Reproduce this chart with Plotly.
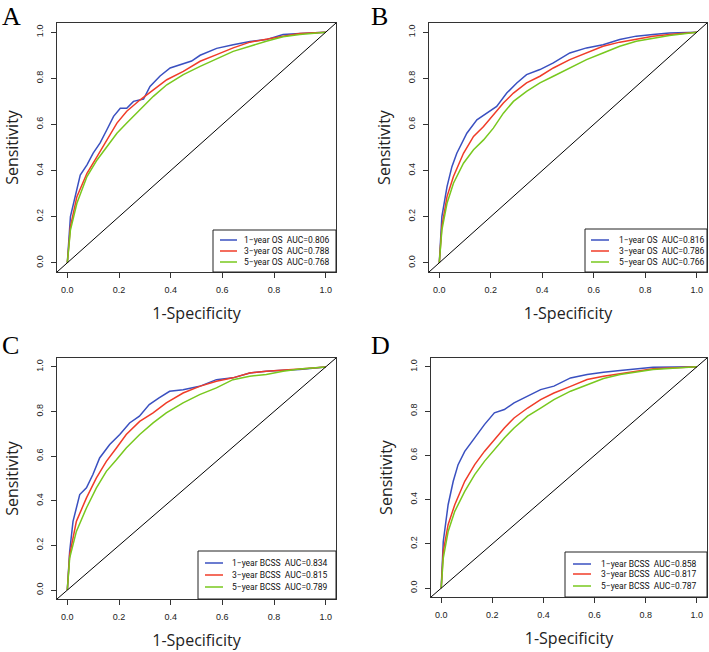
import plotly.graph_objects as go

# ---------------- data ----------------
panel_letters = ["A", "B", "C", "D"]
year_labels = ["1\u2212year", "3\u2212year", "5\u2212year"]
endpoints = ["OS", "OS", "BCSS", "BCSS"]
auc_A = [0.806, 0.788, 0.768]
auc_B = [0.816, 0.786, 0.766]
auc_C = [0.834, 0.815, 0.789]
auc_D = [0.858, 0.817, 0.787]
tick_vals = [0.0, 0.2, 0.4, 0.6, 0.8, 1.0]
tick_text = ["0.0", "0.2", "0.4", "0.6", "0.8", "1.0"]

# Panel A
A_fpr_1 = [0, .012, .05, .076, .10, .127, .153, .179, .205, .23, .256, .295, .32, .359, .398, .436, .481, .514, .578, .642, .707, .77, .835, .9, 1]
A_tpr_1 = [0, .2, .38, .425, .476, .52, .577, .635, .67, .67, .70, .71, .765, .81, .845, .86, .875, .90, .93, .946, .96, .968, .99, .995, 1]
A_fpr_3 = [0, .012, .037, .076, .115, .153, .192, .23, .282, .333, .385, .449, .514, .578, .642, .707, .77, .835, .9, 1]
A_tpr_3 = [0, .157, .287, .388, .46, .533, .606, .657, .707, .75, .794, .83, .874, .903, .932, .957, .971, .983, .994, 1]
A_fpr_5 = [0, .012, .037, .076, .115, .153, .192, .23, .282, .333, .385, .449, .514, .578, .642, .707, .77, .835, .9, 1]
A_tpr_5 = [0, .142, .258, .374, .446, .504, .562, .606, .664, .722, .772, .816, .852, .884, .917, .939, .961, .98, .99, 1]

# Panel B
B_fpr_1 = [0, .01, .03, .049, .068, .107, .146, .185, .223, .262, .301, .339, .391, .443, .507, .572, .636, .701, .765, .83, .894, 1]
B_tpr_1 = [0, .2, .33, .417, .475, .562, .62, .649, .678, .736, .78, .816, .838, .867, .91, .932, .946, .968, .983, .99, .997, 1]
B_fpr_3 = [0, .01, .03, .055, .094, .133, .172, .21, .249, .288, .339, .391, .443, .507, .572, .636, .701, .765, .83, .894, 1]
B_tpr_3 = [0, .157, .287, .374, .475, .548, .591, .642, .693, .736, .78, .809, .845, .881, .91, .939, .957, .971, .983, .99, 1]
B_fpr_5 = [0, .01, .03, .055, .094, .133, .172, .21, .249, .288, .339, .391, .443, .507, .572, .636, .701, .765, .83, .894, 1]
B_tpr_5 = [0, .142, .258, .345, .432, .49, .533, .584, .649, .70, .743, .78, .809, .845, .881, .91, .939, .961, .975, .986, 1]

# Panel C
C_fpr_1 = [0, .009, .022, .048, .074, .099, .125, .164, .203, .241, .279, .317, .355, .396, .448, .512, .577, .641, .706, .77, .835, .899, 1]
C_tpr_1 = [0, .173, .308, .428, .458, .518, .592, .652, .697, .749, .779, .831, .861, .891, .898, .913, .943, .951, .973, .981, .985, .988, 1]
C_fpr_3 = [0, .009, .035, .074, .112, .151, .19, .228, .28, .332, .383, .448, .512, .577, .641, .706, .77, .835, .899, 1]
C_tpr_3 = [0, .158, .308, .413, .502, .577, .637, .697, .756, .794, .839, .883, .913, .936, .951, .973, .981, .985, .991, 1]
C_fpr_5 = [0, .009, .035, .074, .112, .151, .19, .228, .28, .332, .383, .448, .512, .577, .641, .706, .77, .835, .899, 1]
C_tpr_5 = [0, .143, .263, .368, .457, .532, .584, .637, .697, .749, .794, .839, .876, .906, .943, .958, .966, .981, .991, 1]

# Panel D
D_fpr_1 = [0, .008, .027, .047, .066, .092, .131, .169, .208, .247, .285, .338, .389, .441, .506, .571, .635, .70, .765, .829, 1]
D_tpr_1 = [0, .211, .377, .483, .558, .618, .679, .739, .792, .807, .837, .867, .897, .913, .95, .965, .976, .983, .991, .998, 1]
D_fpr_3 = [0, .008, .027, .053, .092, .131, .169, .208, .247, .285, .338, .389, .441, .506, .571, .635, .70, .765, .829, 1]
D_tpr_3 = [0, .166, .287, .377, .483, .558, .618, .671, .724, .769, .814, .852, .882, .912, .943, .958, .968, .98, .991, 1]
D_fpr_5 = [0, .008, .027, .053, .092, .131, .169, .208, .247, .285, .338, .389, .441, .506, .571, .635, .70, .765, .829, 1]
D_tpr_5 = [0, .136, .256, .347, .437, .513, .573, .626, .679, .724, .777, .814, .852, .89, .92, .947, .965, .976, .988, 1]

curves = {
    "A": [(A_fpr_1, A_tpr_1), (A_fpr_3, A_tpr_3), (A_fpr_5, A_tpr_5)],
    "B": [(B_fpr_1, B_tpr_1), (B_fpr_3, B_tpr_3), (B_fpr_5, B_tpr_5)],
    "C": [(C_fpr_1, C_tpr_1), (C_fpr_3, C_tpr_3), (C_fpr_5, C_tpr_5)],
    "D": [(D_fpr_1, D_tpr_1), (D_fpr_3, D_tpr_3), (D_fpr_5, D_tpr_5)],
}
aucs = {"A": auc_A, "B": auc_B, "C": auc_C, "D": auc_D}

# ---------------- styling / layout ----------------
W, H = 709, 652
colors = ["#3A50C0", "#F03C28", "#78C81E"]
# plot boxes in pixels: left, top, right, bottom
boxes = {"A": (57, 23, 336, 272), "B": (429, 23, 707, 272),
         "C": (57, 358, 336, 599), "D": (431, 358, 707, 597)}
# legend geometry in pixels
leg = {
    "A": dict(left=213, top=230, rows=[10, 21, 32], line=(7, 24), text=29),
    "B": dict(left=585, top=229, rows=[11, 22, 33], line=(6, 24), text=32),
    "C": dict(left=198, top=551, rows=[12, 24, 36], line=(7, 25), text=32),
    "D": dict(left=565, top=552, rows=[12, 22, 34], line=(8, 26), text=34),
}
letter_pos = {"A": (0, 0), "B": (369, 0), "C": (0, 329), "D": (369, 329)}

tick_font = dict(family="Liberation Sans, Arial, sans-serif", size=9, color="#222")
title_font = dict(family="Open Sans, Noto Sans, sans-serif", size=16, color="#222")
NB = "\u00a0"

fig = go.Figure()
layout = dict(width=W, height=H, margin=dict(l=0, r=0, t=0, b=0),
              paper_bgcolor="white", plot_bgcolor="white", showlegend=False)
shapes, annotations = [], []

for i, p in enumerate(panel_letters):
    n = "" if i == 0 else str(i + 1)
    xa, ya = "x" + n, "y" + n
    l, t, r, b = boxes[p]
    layout["xaxis" + n] = dict(
        domain=[l / W, r / W], anchor=ya, range=[-0.04, 1.04],
        tickvals=tick_vals, ticktext=tick_text, ticks="outside", ticklen=5,
        tickwidth=1, tickcolor="#333", showline=True, linecolor="#333", linewidth=1,
        mirror=True, showgrid=False, zeroline=False, tickfont=tick_font,
        ticklabelstandoff=4,
        title=dict(text="1-Specificity", font=title_font, standoff=14))
    layout["yaxis" + n] = dict(
        domain=[1 - b / H, 1 - t / H], anchor=xa, range=[-0.04, 1.04],
        tickvals=tick_vals, ticktext=tick_text, ticks="outside", ticklen=5,
        tickwidth=1, tickcolor="#333", showline=True, linecolor="#333", linewidth=1,
        mirror=True, showgrid=False, zeroline=False, tickfont=tick_font,
        tickangle=-90, ticklabelstandoff=4,
        title=dict(text="Sensitivity", font=title_font, standoff=12))

    # diagonal reference line (abline y = x) across the plotting region
    shapes.append(dict(type="line", xref=xa + " domain", yref=ya + " domain",
                       x0=0, y0=0, x1=1, y1=1, line=dict(color="black", width=1)))

    for k, (fx, ty) in enumerate(curves[p]):
        fig.add_trace(go.Scatter(x=fx, y=ty, mode="lines", xaxis=xa, yaxis=ya,
                                 line=dict(color=colors[k], width=1.5),
                                 name=f"{year_labels[k]} {endpoints[i]}"))

    # legend box (drawn like R's legend())
    pw, ph = r - l, b - t
    g = leg[p]
    shapes.append(dict(type="rect", xref=xa + " domain", yref=ya + " domain",
                       x0=(g["left"] - l) / pw, x1=1, y0=0, y1=(b - g["top"]) / ph,
                       line=dict(color="#222", width=1), fillcolor="white", layer="above"))
    for k in range(3):
        yy = (b - (g["top"] + g["rows"][k])) / ph
        shapes.append(dict(type="line", xref=xa + " domain", yref=ya + " domain",
                           x0=(g["left"] + g["line"][0] - l) / pw,
                           x1=(g["left"] + g["line"][1] - l) / pw,
                           y0=yy, y1=yy, line=dict(color=colors[k], width=1.5), layer="above"))
        annotations.append(dict(
            xref=xa + " domain", yref=ya + " domain",
            x=(g["left"] + g["text"] - l) / pw, y=yy, xanchor="left", yanchor="middle",
            text=f"{year_labels[k]} {endpoints[i]}{NB}{NB}AUC={aucs[p][k]:.3f}",
            showarrow=False, font=dict(family="Roboto, Liberation Sans, sans-serif", size=8.5, color="#111")))

    # panel letter
    lx, ly = letter_pos[p]
    annotations.append(dict(xref="paper", yref="paper", x=lx / W, y=1 - ly / H,
                            xanchor="left", yanchor="top", text=p, showarrow=False,
                            font=dict(family="Liberation Serif, Times New Roman, serif",
                                      size=26, color="black")))

layout["shapes"] = shapes
layout["annotations"] = annotations
fig.update_layout(**layout)
fig.write_html("out.html", config={"displayModeBar": False},
               post_script="document.body.style.margin='0px';document.body.style.padding='0px';")
